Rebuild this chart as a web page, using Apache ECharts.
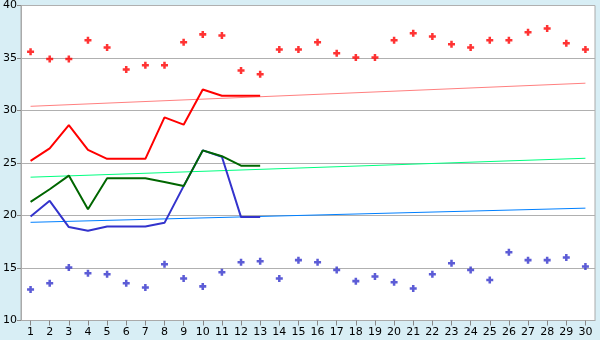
<!DOCTYPE html>
<html><head><meta charset="utf-8">
<script src="https://cdn.jsdelivr.net/npm/echarts@6/dist/echarts.min.js"></script>
<style>html,body{margin:0;padding:0;background:#d8eef5;}#c{width:600px;height:340px;}</style>
</head><body><div id="c"></div>
<script>
var categories = ['1','2','3','4','5','6','7','8','9','10','11','12','13','14','15','16','17','18','19','20','21','22','23','24','25','26','27','28','29','30'];
var redScatter = [35.6,34.9,34.9,36.7,36.0,33.9,34.3,34.3,36.5,37.25,37.15,33.8,33.45,35.8,35.8,36.5,35.45,35.05,35.05,36.7,37.35,37.05,36.3,36.0,36.7,36.7,37.45,37.8,36.4,35.8];
var blueScatter = [12.95,13.55,15.05,14.5,14.4,13.55,13.15,15.35,14.0,13.25,14.6,15.55,15.65,14.0,15.75,15.55,14.8,13.75,14.2,13.65,13.05,14.4,15.45,14.8,13.85,16.5,15.75,15.75,16.0,15.15];
var redLine = [25.2,26.4,28.6,26.25,25.4,25.4,25.4,29.35,28.65,32.0,31.4,31.4,31.4];
var greenLine = [21.3,22.5,23.8,20.6,23.55,23.55,23.55,23.2,22.8,26.2,25.65,24.75,24.75];
var blueLine = [19.9,21.4,18.9,18.55,18.95,18.95,18.95,19.3,22.8,26.2,25.6,19.85,19.85];
var redTrend = [['1',30.4],['30',32.6]];
var greenTrend = [['1',23.65],['30',25.45]];
var blueTrend = [['1',19.35],['30',20.7]];
var yTicks = {min:10, max:40, interval:5};

var plusPath = 'path://M1.6,0H3.4V1.6H5V3.4H3.4V5H1.6V3.4H0V1.6H1.6Z';
var chart = echarts.init(document.getElementById('c'), null, {renderer:'canvas'});
function trend(d, color){
  return {type:'line', data:d, symbol:'none', silent:true, animation:false,
    lineStyle:{color:color, width:1}, z:2};
}
function line(d, color, z){
  return {type:'line', data:d, symbol:'none', animation:false,
    lineStyle:{color:color, width:2}, z:z};
}
function scat(d, color){
  return {type:'scatter', data:d, symbol:plusPath, symbolSize:7, animation:false,
    itemStyle:{color:color}, z:5};
}
chart.setOption({
  backgroundColor:'#d8eef5',
  animation:false,
  grid:{left:20, right:5, top:5.5, bottom:19.5, show:true, backgroundColor:'#ffffff', borderColor:'#aaaaaa', borderWidth:1},
  xAxis:{type:'category', data:categories, boundaryGap:true,
    axisLine:{lineStyle:{color:'#aaaaaa'}},
    axisTick:{show:true, alignWithLabel:true, length:5, lineStyle:{color:'#888888'}},
    axisLabel:{color:'#000', fontFamily:'DejaVu Sans', fontSize:11, margin:6, interval:0},
    splitLine:{show:false}},
  yAxis:{type:'value', min:yTicks.min, max:yTicks.max, interval:yTicks.interval,
    axisLine:{show:true, lineStyle:{color:'#aaaaaa'}},
    axisTick:{show:true, length:4, lineStyle:{color:'#888888'}},
    axisLabel:{color:'#000', fontFamily:'DejaVu Sans', fontSize:11, margin:4},
    splitLine:{lineStyle:{color:'#b0b0b0', width:1}}},
  series:[
    trend(redTrend,'#ff8080'),
    trend(greenTrend,'#00ff80'),
    trend(blueTrend,'#0080ff'),
    line(redLine,'#ff0000',3),
    line(blueLine,'#3333cc',3),
    line(greenLine,'#006600',4),
    scat(redScatter,'#ff0000'),
    scat(blueScatter,'#3333cc')
  ]
});
</script></body></html>
